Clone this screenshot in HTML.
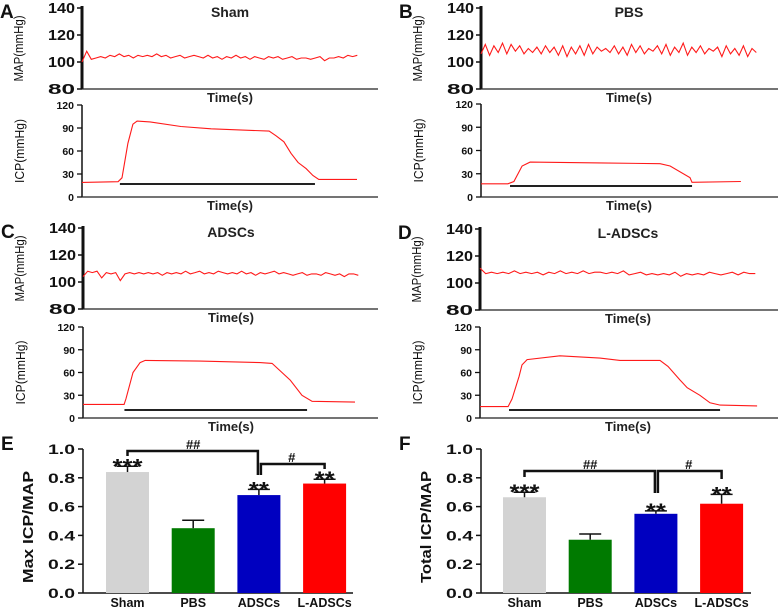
<!DOCTYPE html>
<html><head><meta charset="utf-8"><style>
html,body{margin:0;padding:0;background:#fff;}
svg{display:block;font-family:"Liberation Sans",Arial,sans-serif;font-weight:bold;}
</style></head><body>
<svg id="fig" width="778" height="612" viewBox="0 0 778 612" xmlns="http://www.w3.org/2000/svg"></svg>
<script>
// ---- data ----
const groups = ["Sham","PBS","ADSCs","L-ADSCs"];
const maxRatio = [0.84,0.45,0.68,0.76];
const maxErr = [0.04,0.055,0.04,0.03];
const totalRatio = [0.665,0.37,0.55,0.62];
const totalErr = [0.035,0.04,0.02,0.065];
const barColors = ["#d3d3d3","#007a00","#0000c0","#ff0000"];
const mapTicks = [80,100,120,140];
const icpTicks = [0,30,60,90,120];
const barTicks = [0,0.2,0.4,0.6,0.8,1.0];
const barTickLabels = ["0.0","0.2","0.4","0.6","0.8","1.0"];
const mapA = [100,108,102,103,104,103,105,104,106,104,105,103,105,104,105,104,106,104,105,103,104,105,103,104,105,104,103,105,103,104,102,104,103,105,103,104,102,104,103,102,104,103,104,102,103,104,102,103,103,102,103,104,101,103,103,104,103,105,104,105];
const mapB = [106,113,105,112,107,114,106,113,108,112,106,110,107,111,106,112,107,111,105,112,104,111,106,112,105,113,106,111,108,110,107,112,106,111,105,113,107,112,106,110,108,112,106,113,105,111,107,114,105,111,107,112,106,110,108,111,104,112,106,110,105,112,104,110,107];
const mapC = [104,108,107,108,103,107,106,107,101,106,107,106,107,106,107,106,107,105,107,106,107,106,108,106,107,108,106,107,106,108,107,106,107,106,108,106,107,105,107,106,107,108,106,107,106,105,106,107,105,106,106,105,107,106,105,106,104,106,106,105];
const mapD = [111,107,108,107,108,107,109,107,108,107,108,106,108,107,109,107,108,107,109,107,108,108,107,108,107,109,106,107,108,106,107,106,107,106,108,105,107,106,107,106,108,107,106,107,108,106,108,107,107];
const icpA_t = [0,12.2,13.5,15.5,17.2,18.6,23,33.4,43.6,63.2,65.5,68.2,70.6,73,75.7,78,80,92.9];
const icpA_v = [19,20,25,70,95,99,98,92,89,86,80,72,57,45,37,28,23,23];
const icpB_t = [0,9.1,11.1,13.9,16.6,40.2,60.5,63.9,70.6,71.3,87.8];
const icpB_v = [17,17,20,40,45,44,43,40,25,19,20];
const icpC_t = [0,13.9,14.5,16.9,19.3,21,39.5,59.8,63.9,70,74,77.4,91.9];
const icpC_v = [18,18,25,60,73,76,75,73,72,50,30,22,21];
const icpD_t = [0,9.5,10.8,13.2,14.2,15.9,27,40.5,47.3,60.8,63.5,67.6,70,74.3,77.7,81.1,93.6];
const icpD_v = [15,15,25,55,70,77,82,79,76,76,68,50,40,30,20,17,16];

const NS="http://www.w3.org/2000/svg";
const svg=document.getElementById('fig');
function mk(tag,attrs,parent,text){const e=document.createElementNS(NS,tag);for(const k in attrs)e.setAttribute(k,attrs[k]);if(text!==undefined)e.textContent=text;(parent||svg).appendChild(e);return e;}

function traceXY(ax,t){return ax+t*2.96;}

function panel(letter,title,ax,mapTop,icpTop,icpBot,mapData,tArr,vArr,barT0,barT1,barY,axEnd){
  const g=mk('g',{});
  
  
  const mapBot=mapTop+81;
  const my=v=>mapBot-(v-80)/60*(mapBot-mapTop);
  const iy=v=>icpBot-v/120*(icpBot-icpTop);
  let t=mk('text',{x:ax-82,y:mapTop+10,'font-size':19,fill:'#111'},g,letter);
  
  t=mk('text',{x:ax+148,y:mapTop+9,'font-size':14,fill:'#222','text-anchor':'middle'},g,title);
  
  mk('line',{x1:ax,y1:mapTop-2,x2:ax,y2:mapBot,stroke:'#111','stroke-width':3},g);
  mk('line',{x1:ax,y1:mapBot,x2:axEnd,y2:mapBot,stroke:'#222','stroke-width':1.2},g);
  mapTicks.forEach(v=>{
    mk('line',{x1:ax-5,y1:my(v),x2:ax,y2:my(v),stroke:'#111','stroke-width':1.5},g);
    const tt=mk('text',{x:ax-7,y:my(v)+5,'font-size':15,'text-anchor':'end',fill:'#111','textLength':27,'lengthAdjust':'spacingAndGlyphs'},g,v);
    
  });
  t=mk('text',{transform:`translate(${ax-59},${(mapTop+mapBot)/2}) rotate(-90)`,'font-size':13,'font-weight':'normal','text-anchor':'middle',fill:'#111','textLength':66,'lengthAdjust':'spacingAndGlyphs'},g,'MAP(mmHg)');
  
  t=mk('text',{x:ax+148,y:mapBot+13,'font-size':13,'text-anchor':'middle',fill:'#222'},g,'Time(s)');
  
  const n=mapData.length;
  let pts=mapData.map((v,i)=>traceXY(ax,i*93/(n-1)).toFixed(1)+','+my(v).toFixed(1)).join(' ');
  let pl=mk('polyline',{points:pts,fill:'none',stroke:'#ff1a1a','stroke-width':1.1},g);
  
  mk('line',{x1:ax,y1:icpTop,x2:ax,y2:icpBot,stroke:'#111','stroke-width':1.5},g);
  mk('line',{x1:ax,y1:icpBot,x2:axEnd,y2:icpBot,stroke:'#222','stroke-width':1.2},g);
  icpTicks.forEach(v=>{
    mk('line',{x1:ax-5,y1:iy(v),x2:ax,y2:iy(v),stroke:'#111','stroke-width':1.3},g);
    const tt=mk('text',{x:ax-8,y:iy(v)+4,'font-size':10.5,'text-anchor':'end',fill:'#111'},g,v);
    
  });
  t=mk('text',{transform:`translate(${ax-58},${(icpTop+icpBot)/2}) rotate(-90)`,'font-size':13,'font-weight':'normal','text-anchor':'middle',fill:'#111','textLength':64,'lengthAdjust':'spacingAndGlyphs'},g,'ICP(mmHg)');
  
  t=mk('text',{x:ax+148,y:icpBot+13,'font-size':13,'text-anchor':'middle',fill:'#222'},g,'Time(s)');
  
  pts=tArr.map((tv,i)=>traceXY(ax,tv).toFixed(1)+','+iy(vArr[i]).toFixed(1)).join(' ');
  pl=mk('polyline',{points:pts,fill:'none',stroke:'#ff1a1a','stroke-width':1.1},g);
  
  const bl=mk('line',{x1:traceXY(ax,barT0),y1:barY,x2:traceXY(ax,barT1),y2:barY,stroke:'#222','stroke-width':2},g);
  
}
panel('A','Sham',82,8,105,197,mapA,icpA_t,icpA_v,12.8,78.7,184,378);
panel('B','PBS',481,8,104,197,mapB,icpB_t,icpB_v,9.8,71.3,186,778);
panel('C','ADSCs',83,228,327,418,mapC,icpC_t,icpC_v,14,75.7,410,378);
panel('D','L-ADSCs',480,229,327,418,mapD,icpD_t,icpD_v,9.8,81.1,410,778);

function barChart(letter,ax,barX,vals,errs,ytitle,brk){
  const g=mk('g',{});
  
  
  const top=449,bot=593;
  const y=v=>bot-v*(bot-top);
  let t=mk('text',{x:ax-82,y:450,'font-size':19,fill:'#111'},g,letter);
  
  mk('line',{x1:ax,y1:top,x2:ax,y2:bot,stroke:'#111','stroke-width':1.5},g);
  mk('line',{x1:ax,y1:bot,x2:ax+270,y2:bot,stroke:'#111','stroke-width':1.5},g);
  barTicks.forEach((v,i)=>{
    mk('line',{x1:ax-5,y1:y(v),x2:ax,y2:y(v),stroke:'#111','stroke-width':1.5},g);
    const tt=mk('text',{x:ax-8,y:y(v)+5,'font-size':14,'text-anchor':'end',fill:'#111','textLength':27,'lengthAdjust':'spacingAndGlyphs'},g,barTickLabels[i]);
    
  });
  t=mk('text',{transform:`translate(${ax-50},${(top+bot)/2+6}) rotate(-90)`,'font-size':15,'text-anchor':'middle',fill:'#111','textLength':ytitle.length>13?126:112,'lengthAdjust':'spacingAndGlyphs'},g,ytitle);
  
  vals.forEach((v,i)=>{
    const x0=barX+i*65.7, w=43, cx=x0+w/2;
    const r=mk('rect',{x:x0,y:y(v),width:w,height:bot-y(v),fill:barColors[i]},g);
    
    mk('line',{x1:cx,y1:y(v),x2:cx,y2:y(v+errs[i]),stroke:'#111','stroke-width':1.5},g);
    mk('line',{x1:cx-11,y1:y(v+errs[i]),x2:cx+11,y2:y(v+errs[i]),stroke:'#111','stroke-width':1.5},g);
    const lab=mk('text',{x:cx,y:607,'font-size':12.5,'text-anchor':'middle',fill:'#111'},g,groups[i]);
    
    const stars=['***','','**','**'][i];
    if(stars){const s=mk('text',{x:cx,y:y(v+errs[i])+7,'font-size':21,'text-anchor':'middle',fill:'#111','textLength':stars.length*10,'lengthAdjust':'spacingAndGlyphs'},g,stars);
      }
  });
  const c=i=>barX+i*65.7+21.5;
  mk('polyline',{points:`${c(0)},${brk[1]} ${c(0)},${brk[0]} ${c(2)-1},${brk[0]} ${c(2)-1},${brk[2]}`,fill:'none',stroke:'#111','stroke-width':2.5},g);
  mk('polyline',{points:`${c(2)+2},${brk[2]} ${c(2)+2},${brk[3]} ${c(3)},${brk[3]} ${c(3)},${brk[4]}`,fill:'none',stroke:'#111','stroke-width':2.5},g);
  t=mk('text',{x:(c(0)+c(2))/2,y:brk[0]-2,'font-size':13,'text-anchor':'middle',fill:'#111'},g,'##');
  
  t=mk('text',{x:(c(2)+c(3))/2,y:brk[3]-2,'font-size':13,'text-anchor':'middle',fill:'#111'},g,'#');
  
}
barChart('E',83,106,maxRatio,maxErr,'Max ICP/MAP',[451,456,475,464,469]);
barChart('F',481,503,totalRatio,totalErr,'Total ICP/MAP',[471,477,493,471,479]);
</script>
</body></html>
